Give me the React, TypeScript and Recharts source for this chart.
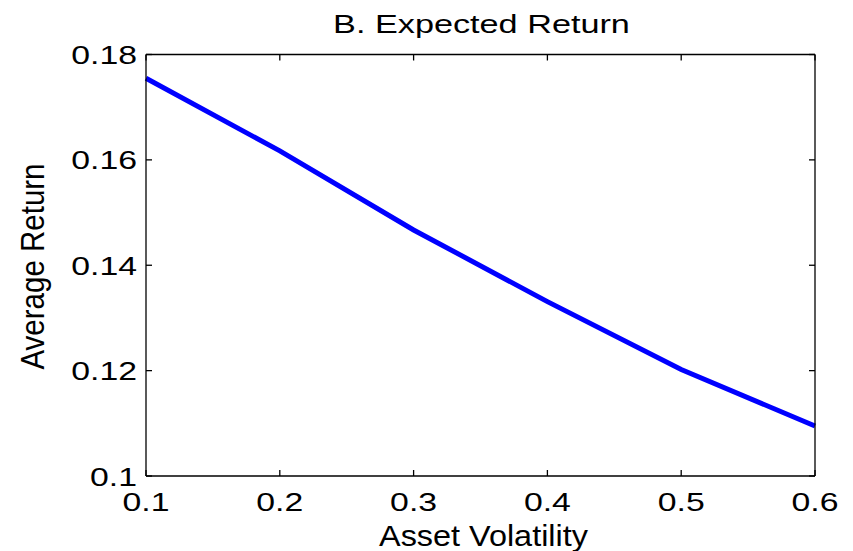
import React from 'react';
import { LineChart, Line, XAxis, YAxis } from 'recharts';

// Expected return vs. asset volatility
const volatility = [0.1, 0.2, 0.3, 0.4, 0.5, 0.6];
const averageReturn = [0.1755, 0.1617, 0.1467, 0.1331, 0.1202, 0.1095];
const xTicks = [0.1, 0.2, 0.3, 0.4, 0.5, 0.6];
const yTicks = [0.1, 0.12, 0.14, 0.16, 0.18];
const chartTitle = 'B. Expected Return';
const xLabel = 'Asset Volatility';
const yLabel = 'Average Return';

const data = volatility.map((v, i) => ({ volatility: v, ret: averageReturn[i] }));

const W = 853;
const H = 551;
const FONT = '"Liberation Sans", Arial, Helvetica, sans-serif';
const TICK_LEN = 6;
const TICK_FONT = 26;
const TICK_STRETCH = 1.3;
const AXIS_STROKE = 1.3;

// Bottom axis: inward tick mark plus a label below
const BottomTick = (props: any) => {
  const { x, y, payload } = props;
  const base = y - 8;
  return (
    <g>
      <line x1={x} x2={x} y1={base} y2={base - TICK_LEN} stroke="#000" strokeWidth={AXIS_STROKE} />
      <text
        transform={`translate(${x},${base + 34.7}) scale(${TICK_STRETCH},1)`}
        textAnchor="middle"
        fontFamily={FONT}
        fontSize={TICK_FONT}
        fill="#000"
      >
        {String(payload.value)}
      </text>
    </g>
  );
};

const TopTick = (props: any) => {
  const { x, y } = props;
  const base = y + 8;
  return <line x1={x} x2={x} y1={base} y2={base + TICK_LEN} stroke="#000" strokeWidth={AXIS_STROKE} />;
};

const LeftTick = (props: any) => {
  const { x, y, payload } = props;
  const base = x + 8;
  return (
    <g>
      <line x1={base} x2={base + TICK_LEN} y1={y} y2={y} stroke="#000" strokeWidth={AXIS_STROKE} />
      <text
        transform={`translate(${base - 9},${y + 9.6}) scale(${TICK_STRETCH},1)`}
        textAnchor="end"
        fontFamily={FONT}
        fontSize={TICK_FONT}
        fill="#000"
      >
        {String(payload.value)}
      </text>
    </g>
  );
};

const RightTick = (props: any) => {
  const { x, y } = props;
  const base = x - 8;
  return <line x1={base} x2={base - TICK_LEN} y1={y} y2={y} stroke="#000" strokeWidth={AXIS_STROKE} />;
};

export default function App() {
  return (
    <div style={{ position: 'absolute', left: 0, top: 0, width: W, height: H, background: '#fff' }}>
      <LineChart
        width={W}
        height={H}
        data={data}
        margin={{ top: 44.5, right: 28, bottom: 45, left: 86 }}
      >
        <XAxis
          xAxisId="bottom"
          dataKey="volatility"
          type="number"
          domain={[0.1, 0.6]}
          ticks={xTicks}
          orientation="bottom"
          height={30}
          tickSize={6}
          tickMargin={2}
          tickLine={false}
          tick={<BottomTick />}
          axisLine={{ stroke: '#000', strokeWidth: AXIS_STROKE }}
          interval={0}
        />
        <XAxis
          xAxisId="top"
          dataKey="volatility"
          type="number"
          domain={[0.1, 0.6]}
          ticks={xTicks}
          orientation="top"
          height={10}
          tickSize={6}
          tickMargin={2}
          tickLine={false}
          tick={<TopTick />}
          axisLine={{ stroke: '#000', strokeWidth: AXIS_STROKE }}
          interval={0}
        />
        <YAxis
          yAxisId="left"
          type="number"
          domain={[0.1, 0.18]}
          ticks={yTicks}
          orientation="left"
          width={60}
          tickSize={6}
          tickMargin={2}
          tickLine={false}
          tick={<LeftTick />}
          axisLine={{ stroke: '#000', strokeWidth: AXIS_STROKE }}
          interval={0}
        />
        <YAxis
          yAxisId="right"
          type="number"
          domain={[0.1, 0.18]}
          ticks={yTicks}
          orientation="right"
          width={10}
          tickSize={6}
          tickMargin={2}
          tickLine={false}
          tick={<RightTick />}
          axisLine={{ stroke: '#000', strokeWidth: AXIS_STROKE }}
          interval={0}
        />
        <Line
          xAxisId="bottom"
          yAxisId="left"
          type="linear"
          dataKey="ret"
          stroke="#0000ff"
          strokeWidth={5}
          dot={false}
          activeDot={false}
          isAnimationActive={false}
        />
        <Line
          xAxisId="top"
          yAxisId="right"
          type="linear"
          dataKey="ret"
          stroke="none"
          strokeWidth={0}
          dot={false}
          activeDot={false}
          legendType="none"
          isAnimationActive={false}
        />
      </LineChart>
      <svg
        width={W}
        height={H}
        style={{ position: 'absolute', left: 0, top: 0, pointerEvents: 'none' }}
      >
        <text
          transform="translate(481.5,32.7) scale(1.317,1)"
          textAnchor="middle"
          fontFamily={FONT}
          fontSize={26}
          fill="#000"
        >
          {chartTitle}
        </text>
        <text
          transform="translate(483.5,545.5) scale(1.08,1)"
          textAnchor="middle"
          fontFamily={FONT}
          fontSize={30}
          fill="#000"
        >
          {xLabel}
        </text>
        <text
          transform="translate(44.3,266.5) rotate(-90) scale(1,1.12)"
          textAnchor="middle"
          fontFamily={FONT}
          fontSize={29.5}
          fill="#000"
        >
          {yLabel}
        </text>
      </svg>
    </div>
  );
}
